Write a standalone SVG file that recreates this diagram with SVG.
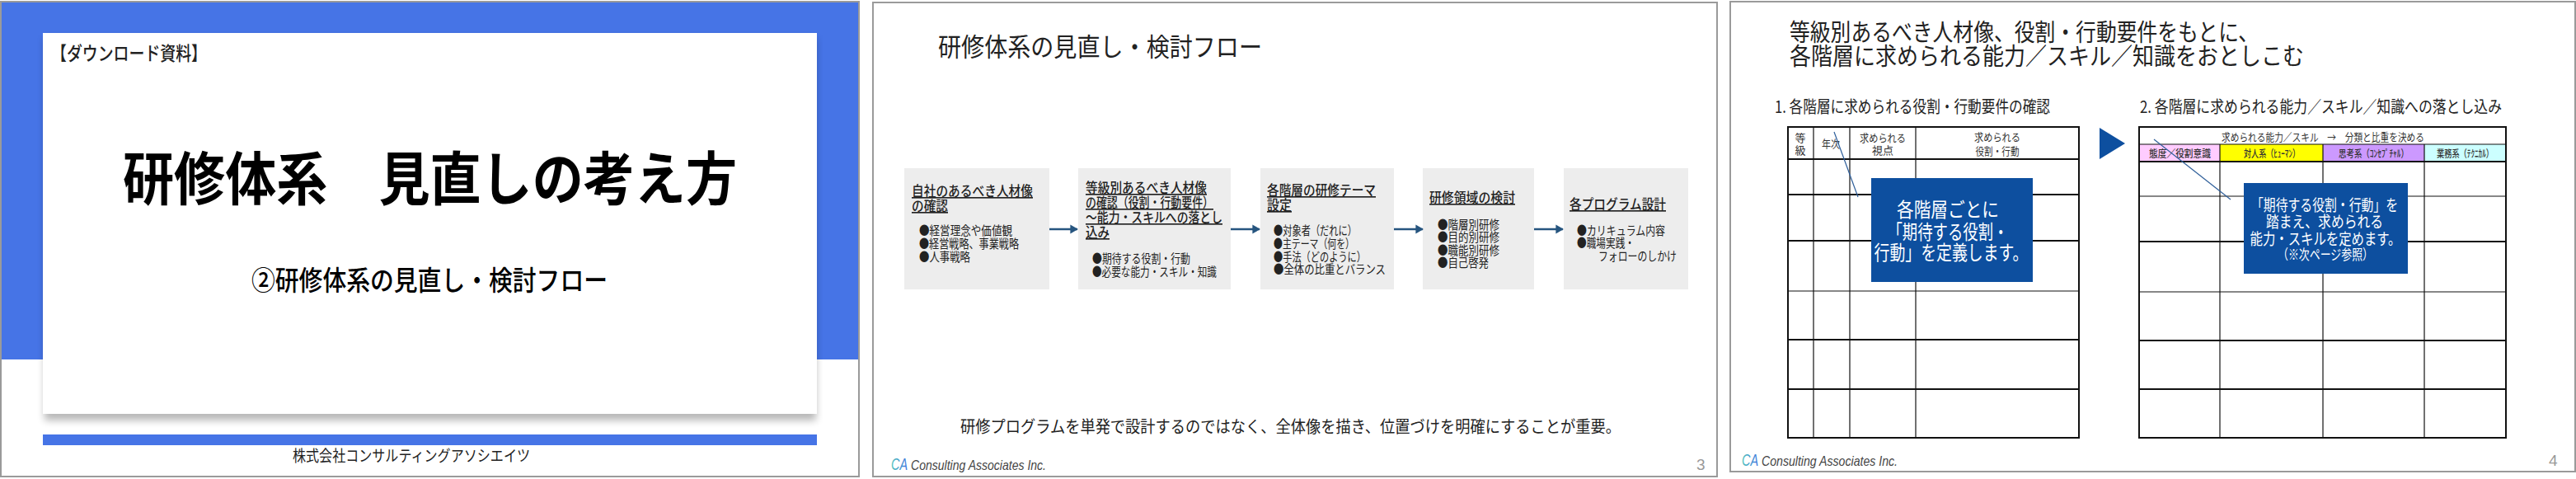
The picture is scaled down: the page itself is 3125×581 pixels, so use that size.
<svg xmlns="http://www.w3.org/2000/svg" width="3125" height="581" viewBox="0 0 3125 581">
<defs>
<style>
text{font-family:"Noto Sans CJK JP","Noto Sans",sans-serif;fill:#222;font-weight:400}
.frame{fill:#fff;stroke:#9a9a9a;stroke-width:2}
.blue{fill:#4674E6}
.gray{fill:#EDEDED}
.navy{fill:#0D4F9F}
.h{font-size:16.5px;font-weight:500;text-decoration:underline}
.b{font-size:15px}
.th{font-size:13px;fill:#333}
.tc{font-size:12.5px;fill:#333;font-weight:500}
.m{text-anchor:middle}
.ca{font-family:"Liberation Sans",sans-serif;font-style:italic;font-size:17px;fill:#444}
.logo{font-family:"Liberation Sans",sans-serif;font-style:italic;font-size:21px;fill:url(#cag)}
.pg{font-family:"Liberation Sans",sans-serif;font-size:19px;fill:#999}
.grid line{stroke:#111;stroke-width:1.2}
.grid line.t{stroke-width:2}
.outer{fill:none;stroke:#111;stroke-width:2}
.arrow{stroke:#26557F;stroke-width:2.4;fill:none;marker-end:url(#ah)}
.call{stroke:#2F5F9A;stroke-width:1.2;fill:none}
</style>
<marker id="ah" markerWidth="4" markerHeight="5" refX="3.6" refY="2.5" orient="auto"><path d="M0 0.2L4 2.5L0 4.8Z" fill="#26557F"/></marker>
<linearGradient id="cag" x1="0" y1="0" x2="1" y2="0"><stop offset="0" stop-color="#4fc4bc"/><stop offset="1" stop-color="#3f74e0"/></linearGradient>
<filter id="sh" x="-5%" y="-5%" width="110%" height="115%"><feGaussianBlur stdDeviation="5"/></filter>
</defs>
<rect width="3125" height="581" fill="#fff"/>

<g id="slide-1">
<rect class="frame" x="1" y="2" width="1041" height="576"/>
<rect class="blue" x="2" y="3" width="1039" height="433"/>
<rect x="54" y="46" width="936" height="464" fill="#000" opacity="0.28" filter="url(#sh)"/>
<rect x="52" y="40" width="939" height="462" fill="#fff"/>
<rect class="blue" x="52" y="527" width="939" height="13"/>
<text x="62" y="73" font-size="23" style="font-weight:500" textLength="189" lengthAdjust="spacingAndGlyphs">【ダウンロード資料】</text>
<text x="149" y="243" font-size="70" style="font-weight:700;fill:#000" textLength="745" lengthAdjust="spacingAndGlyphs">研修体系　見直しの考え方</text>
<text x="305" y="352" font-size="33" style="font-weight:500;fill:#000" textLength="432" lengthAdjust="spacingAndGlyphs">②研修体系の見直し・検討フロー</text>
<text x="355" y="560" font-size="19" textLength="288" lengthAdjust="spacingAndGlyphs">株式会社コンサルティングアソシエイツ</text>
</g>

<g id="slide-2">
<rect class="frame" x="1059" y="3" width="1024" height="575"/>
<text x="1138" y="68" font-size="31" textLength="393" lengthAdjust="spacingAndGlyphs">研修体系の見直し・検討フロー</text>
<text x="1165" y="525" font-size="20" textLength="801" lengthAdjust="spacingAndGlyphs">研修プログラムを単発で設計するのではなく、全体像を描き、位置づけを明確にすることが重要。</text>
<text class="logo" x="1081" y="570" textLength="20" lengthAdjust="spacingAndGlyphs">CA</text>
<text class="ca" x="1105" y="570" textLength="164" lengthAdjust="spacingAndGlyphs">Consulting Associates Inc.</text>
<text class="pg" x="2058" y="570">3</text>
</g>

<g id="node-1">
<rect class="gray" x="1097" y="204" width="176" height="147"/>
<text class="h" x="1106" y="238" textLength="147" lengthAdjust="spacingAndGlyphs">自社のあるべき人材像</text>
<text class="h" x="1106" y="256" textLength="44" lengthAdjust="spacingAndGlyphs">の確認</text>
<text class="b" x="1115" y="285" textLength="113" lengthAdjust="spacingAndGlyphs">●経営理念や価値観</text>
<text class="b" x="1115" y="301" textLength="121" lengthAdjust="spacingAndGlyphs">●経営戦略、事業戦略</text>
<text class="b" x="1115" y="317" textLength="62" lengthAdjust="spacingAndGlyphs">●人事戦略</text>
</g>
<g id="node-2">
<rect class="gray" x="1308" y="204" width="185" height="147"/>
<text class="h" x="1317" y="234" textLength="147" lengthAdjust="spacingAndGlyphs">等級別あるべき人材像</text>
<text class="h" x="1317" y="252" textLength="155" lengthAdjust="spacingAndGlyphs">の確認（役割・行動要件）</text>
<text class="h" x="1317" y="270" textLength="166" lengthAdjust="spacingAndGlyphs">～能力・スキルへの落とし</text>
<text class="h" x="1317" y="288" textLength="29" lengthAdjust="spacingAndGlyphs">込み</text>
<text class="b" x="1325" y="319" textLength="119" lengthAdjust="spacingAndGlyphs">●期待する役割・行動</text>
<text class="b" x="1325" y="335" textLength="151" lengthAdjust="spacingAndGlyphs">●必要な能力・スキル・知識</text>
</g>
<g id="node-3">
<rect class="gray" x="1529" y="204" width="162" height="147"/>
<text class="h" x="1537" y="237" textLength="132" lengthAdjust="spacingAndGlyphs">各階層の研修テーマ</text>
<text class="h" x="1537" y="255" textLength="30" lengthAdjust="spacingAndGlyphs">設定</text>
<text class="b" x="1545" y="285" textLength="101" lengthAdjust="spacingAndGlyphs">●対象者（だれに）</text>
<text class="b" x="1545" y="301" textLength="98" lengthAdjust="spacingAndGlyphs">●主テーマ（何を）</text>
<text class="b" x="1545" y="317" textLength="112" lengthAdjust="spacingAndGlyphs">●手法（どのように）</text>
<text class="b" x="1545" y="332" textLength="136" lengthAdjust="spacingAndGlyphs">●全体の比重とバランス</text>
</g>
<g id="node-4">
<rect class="gray" x="1726" y="204" width="135" height="147"/>
<text class="h" x="1734" y="246" textLength="104" lengthAdjust="spacingAndGlyphs">研修領域の検討</text>
<text class="b" x="1744" y="278" textLength="75" lengthAdjust="spacingAndGlyphs">●階層別研修</text>
<text class="b" x="1744" y="293" textLength="75" lengthAdjust="spacingAndGlyphs">●目的別研修</text>
<text class="b" x="1744" y="309" textLength="75" lengthAdjust="spacingAndGlyphs">●職能別研修</text>
<text class="b" x="1744" y="324" textLength="62" lengthAdjust="spacingAndGlyphs">●自己啓発</text>
</g>
<g id="node-5">
<rect class="gray" x="1897" y="204" width="151" height="147"/>
<text class="h" x="1904" y="254" textLength="117" lengthAdjust="spacingAndGlyphs">各プログラム設計</text>
<text class="b" x="1913" y="285" textLength="107" lengthAdjust="spacingAndGlyphs">●カリキュラム内容</text>
<text class="b" x="1913" y="300" textLength="70" lengthAdjust="spacingAndGlyphs">●職場実践・</text>
<text class="b" x="1939" y="316" textLength="95" lengthAdjust="spacingAndGlyphs">フォローのしかけ</text>
</g>

<g id="connectors">
<line class="arrow" x1="1273" y1="278" x2="1307" y2="278"/>
<line class="arrow" x1="1493" y1="278" x2="1528" y2="278"/>
<line class="arrow" x1="1691" y1="278" x2="1726" y2="278"/>
<line class="arrow" x1="1861" y1="278" x2="1896" y2="278"/>
</g>

<g id="slide-3">
<rect class="frame" x="2099" y="2" width="1025" height="570"/>
<text x="2171" y="50" font-size="29" textLength="569" lengthAdjust="spacingAndGlyphs">等級別あるべき人材像、役割・行動要件をもとに、</text>
<text x="2171" y="79" font-size="29" textLength="624" lengthAdjust="spacingAndGlyphs">各階層に求められる能力／スキル／知識をおとしこむ</text>
<text x="2153" y="137" font-size="20.5" textLength="334" lengthAdjust="spacingAndGlyphs">1. 各階層に求められる役割・行動要件の確認</text>
<text x="2596" y="137" font-size="20.5" textLength="439" lengthAdjust="spacingAndGlyphs">2. 各階層に求められる能力／スキル／知識への落とし込み</text>
<path class="navy" d="M2547 155L2578 174L2547 193Z"/>
<text class="logo" x="2113" y="565" textLength="20" lengthAdjust="spacingAndGlyphs">CA</text>
<text class="ca" x="2137" y="565" textLength="165" lengthAdjust="spacingAndGlyphs">Consulting Associates Inc.</text>
<text class="pg" x="3092" y="565">4</text>
</g>

<g id="table-1">
<rect x="2169" y="154" width="353" height="377" fill="#fff"/>
<g class="grid">
<line x1="2200" y1="154" x2="2200" y2="531"/><line x1="2244" y1="154" x2="2244" y2="531"/><line x1="2324" y1="154" x2="2324" y2="531"/>
<line class="t" x1="2169" y1="193" x2="2522" y2="193"/><line class="t" x1="2169" y1="236" x2="2522" y2="236"/><line class="t" x1="2169" y1="292" x2="2522" y2="292"/><line x1="2169" y1="353" x2="2522" y2="353"/><line class="t" x1="2169" y1="412" x2="2522" y2="412"/><line class="t" x1="2169" y1="472" x2="2522" y2="472"/>
</g>
<rect class="outer" x="2169" y="154" width="353" height="377"/>
<text class="th m" x="2184" y="172">等</text>
<text class="th m" x="2184" y="187">級</text>
<text class="th" x="2210" y="179" textLength="22" lengthAdjust="spacingAndGlyphs">年次</text>
<text class="th m" x="2284" y="172" textLength="56" lengthAdjust="spacingAndGlyphs">求められる</text>
<text class="th m" x="2284" y="187">視点</text>
<text class="th m" x="2423" y="171" textLength="56" lengthAdjust="spacingAndGlyphs">求められる</text>
<text class="th m" x="2423" y="188" textLength="53" lengthAdjust="spacingAndGlyphs">役割・行動</text>
</g>

<g id="table-2">
<rect x="2595" y="154" width="445" height="377" fill="#fff"/>
<rect x="2595" y="175" width="98" height="21" fill="#FFCCFF"/>
<rect x="2693" y="175" width="125" height="21" fill="#FFFF00"/>
<rect x="2818" y="175" width="123" height="21" fill="#CC99FF"/>
<rect x="2941" y="175" width="99" height="21" fill="#CCFFFF"/>
<g class="grid">
<line x1="2693" y1="175" x2="2693" y2="531"/><line x1="2818" y1="175" x2="2818" y2="531"/><line x1="2941" y1="175" x2="2941" y2="531"/>
<line x1="2595" y1="175" x2="3040" y2="175"/><line class="t" x1="2595" y1="196" x2="3040" y2="196"/><line x1="2595" y1="238" x2="3040" y2="238"/><line class="t" x1="2595" y1="293" x2="3040" y2="293"/><line x1="2595" y1="354" x2="3040" y2="354"/><line class="t" x1="2595" y1="413" x2="3040" y2="413"/><line class="t" x1="2595" y1="472" x2="3040" y2="472"/>
</g>
<rect class="outer" x="2595" y="154" width="445" height="377"/>
<text class="th" x="2695" y="171" textLength="246" lengthAdjust="spacingAndGlyphs">求められる能力／スキル　→　分類と比重を決める</text>
<text class="tc" x="2607" y="191" textLength="75" lengthAdjust="spacingAndGlyphs">態度／役割意識</text>
<text class="tc" x="2722" y="191" textLength="68" lengthAdjust="spacingAndGlyphs">対人系（ﾋｭｰﾏﾝ）</text>
<text class="tc" x="2837" y="191" textLength="85" lengthAdjust="spacingAndGlyphs">思考系（ｺﾝｾﾌﾟﾁｬﾙ）</text>
<text class="tc" x="2956" y="191" textLength="69" lengthAdjust="spacingAndGlyphs">業務系（ﾃｸﾆｶﾙ）</text>
</g>

<g id="callout-lines">
<line class="call" x1="2225" y1="160" x2="2254" y2="239"/>
<line class="call" x1="2613" y1="169" x2="2706" y2="242"/>
</g>

<g id="callout-1">
<rect class="navy" x="2270" y="216" width="196" height="126"/>
<text class="m" style="fill:#fff" x="2363" y="263" font-size="24" textLength="124" lengthAdjust="spacingAndGlyphs">各階層ごとに</text>
<text class="m" style="fill:#fff" x="2363" y="290" font-size="24" textLength="147" lengthAdjust="spacingAndGlyphs">「期待する役割・</text>
<text class="m" style="fill:#fff" x="2367" y="315" font-size="24" textLength="187" lengthAdjust="spacingAndGlyphs">行動」を定義します。</text>
</g>
<g id="callout-2">
<rect class="navy" x="2722" y="222" width="199" height="110"/>
<text class="m" style="fill:#fff" x="2820" y="256" font-size="19.5" textLength="178" lengthAdjust="spacingAndGlyphs">「期待する役割・行動」を</text>
<text class="m" style="fill:#fff" x="2820" y="276" font-size="19.5" textLength="142" lengthAdjust="spacingAndGlyphs">踏まえ、求められる</text>
<text class="m" style="fill:#fff" x="2821" y="297" font-size="19.5" textLength="183" lengthAdjust="spacingAndGlyphs">能力・スキルを定めます。</text>
<text class="m" style="fill:#fff" x="2821" y="315" font-size="17" textLength="116" lengthAdjust="spacingAndGlyphs">（※次ページ参照）</text>
</g>
</svg>
